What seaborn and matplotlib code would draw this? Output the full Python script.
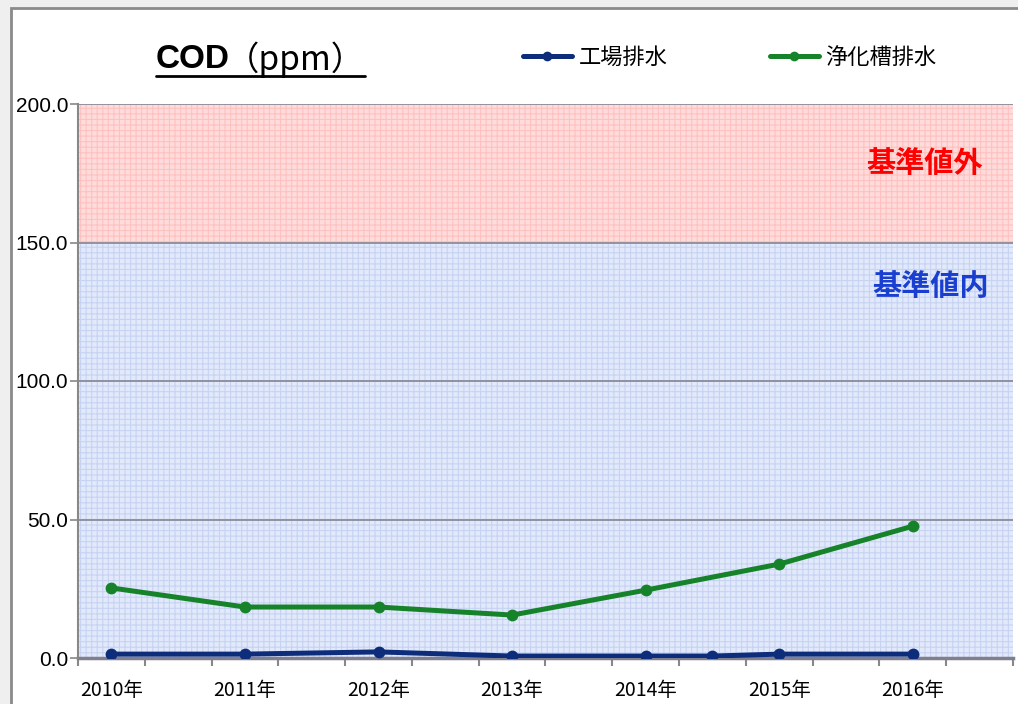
import numpy as np
import pandas as pd
import matplotlib
matplotlib.use('Agg')
import matplotlib.pyplot as plt
from matplotlib.patches import Rectangle
from matplotlib.lines import Line2D
import seaborn as sns

# data (14 half-year slots on the category axis, labels every 2nd slot)
year_labels = ['2010年', '2011年', '2012年', '2013年', '2014年', '2015年', '2016年']
factory_slot = [0, 2, 4, 6, 8, 9, 10, 12]
factory_cod = [1.4, 1.4, 2.2, 0.7, 0.7, 0.7, 1.4, 1.4]
septic_slot = [0, 2, 4, 6, 8, 10, 12]
septic_cod = [25.3, 18.4, 18.4, 15.5, 24.5, 33.9, 47.6]
series_names = ['工場排水', '浄化槽排水']

df = pd.concat([
    pd.DataFrame({'slot': factory_slot, 'cod': factory_cod, 'series': series_names[0]}),
    pd.DataFrame({'slot': septic_slot, 'cod': septic_cod, 'series': series_names[1]}),
])

sns.set_style('white')
plt.rcParams['font.family'] = ['Noto Sans CJK JP', 'DejaVu Sans']
plt.rcParams['text.color'] = 'black'
plt.rcParams['xtick.color'] = 'black'
plt.rcParams['ytick.color'] = 'black'

navy = '#0d2c7a'
green = '#16822a'

fig = plt.figure(figsize=(10.18, 7.04), dpi=100)
fig.patch.set_facecolor('#efefef')
fig.patches.append(Rectangle((11 / 1018, -0.1), 1.2, (704 - 8) / 704 + 0.1,
                             transform=fig.transFigure, facecolor='white',
                             edgecolor='#8a8a8a', linewidth=2, zorder=-5))

ax = fig.add_axes([78 / 1018, 46 / 704, 935 / 1018, 554 / 704])
ax.set_zorder(1)
ax.set_facecolor('none')

# background bands
plt.rcParams['hatch.linewidth'] = 0.8
ax.axhspan(150, 200, facecolor='#ffdcdc', edgecolor='#ffc0c0', hatch='+++', linewidth=0, zorder=0)
ax.axhspan(0, 150, facecolor='#e2e9fa', edgecolor='#c6d3f2', hatch='+++', linewidth=0, zorder=0)

for yv in [50, 100, 150, 200]:
    ax.axhline(yv, color='#8c8c98', linewidth=1.3, zorder=1)

sns.lineplot(data=df, x='slot', y='cod', hue='series', palette=[navy, green],
             marker='o', markersize=8.5, markeredgewidth=0, linewidth=3.6,
             legend=False, ax=ax, zorder=3)

ax.set_xlim(-0.5, 13.5)
ax.set_ylim(0, 200)
ax.set_xlabel('')
ax.set_ylabel('')

ax.set_xticks(np.arange(-0.5, 14, 1))
ax.set_xticklabels([])
ax.set_xticks(np.arange(0, 14, 2), minor=True)
ax.set_xticklabels(year_labels, minor=True, fontsize=14)
ax.tick_params(axis='x', which='major', direction='out', length=6, width=1.5, color='#888888', bottom=True)
ax.tick_params(axis='x', which='minor', length=0, pad=16)

ax.set_yticks([0, 50, 100, 150, 200])
ax.set_yticklabels([f'{v:.1f}' for v in [0, 50, 100, 150, 200]], fontsize=15,
                   family='Liberation Sans')
ax.tick_params(axis='y', direction='out', length=6, width=1.2, color='#888888', left=True, pad=1)

for s in ['top', 'right']:
    ax.spines[s].set_visible(False)
ax.spines['left'].set_color('#888888')
ax.spines['left'].set_linewidth(1.5)
ax.spines['bottom'].set_color('#7f7f8f')
ax.spines['bottom'].set_linewidth(2.5)
ax.spines['bottom'].set_zorder(2)

# band labels
fig.text(925 / 1018, 1 - 163 / 704, '基準値外', color='#ff0000', fontsize=21,
         fontweight='bold', ha='center', va='center', zorder=5)
fig.text(931 / 1018, 1 - 286 / 704, '基準値内', color='#1a3fd0', fontsize=21,
         fontweight='bold', ha='center', va='center', zorder=5)

# title: bold COD + regular (ppm), underlined
fig.canvas.draw()
r = fig.canvas.get_renderer()
t1 = fig.text(156 / 1018, 1 - 60 / 704, 'COD', fontsize=24, fontweight='bold',
              family=['Liberation Sans', 'Noto Sans CJK JP'], va='center', ha='left')
bb1 = t1.get_window_extent(renderer=r)
t2 = fig.text((bb1.x1 - 4) / 1018, 1 - 60 / 704, '（ppm）', fontsize=24, va='center', ha='left')
bb2 = t2.get_window_extent(renderer=r)
fig.lines.append(Line2D([bb1.x0 / 1018, bb2.x1 / 1018], [1 - 76 / 704, 1 - 76 / 704],
                        transform=fig.transFigure, color='black', linewidth=2))

# legend
handles = [Line2D([], [], color=navy, marker='o', markersize=7, markeredgewidth=0, linewidth=3.6),
           Line2D([], [], color=green, marker='o', markersize=7, markeredgewidth=0, linewidth=3.6)]
fig.legend(handles, series_names, loc='center left', bbox_to_anchor=(503 / 1018, 1 - 57 / 704),
           ncol=2, frameon=False, fontsize=16, handlelength=2.2, handletextpad=0.3,
           columnspacing=4.6)

fig.savefig('out.png', dpi=100, facecolor=fig.get_facecolor())
